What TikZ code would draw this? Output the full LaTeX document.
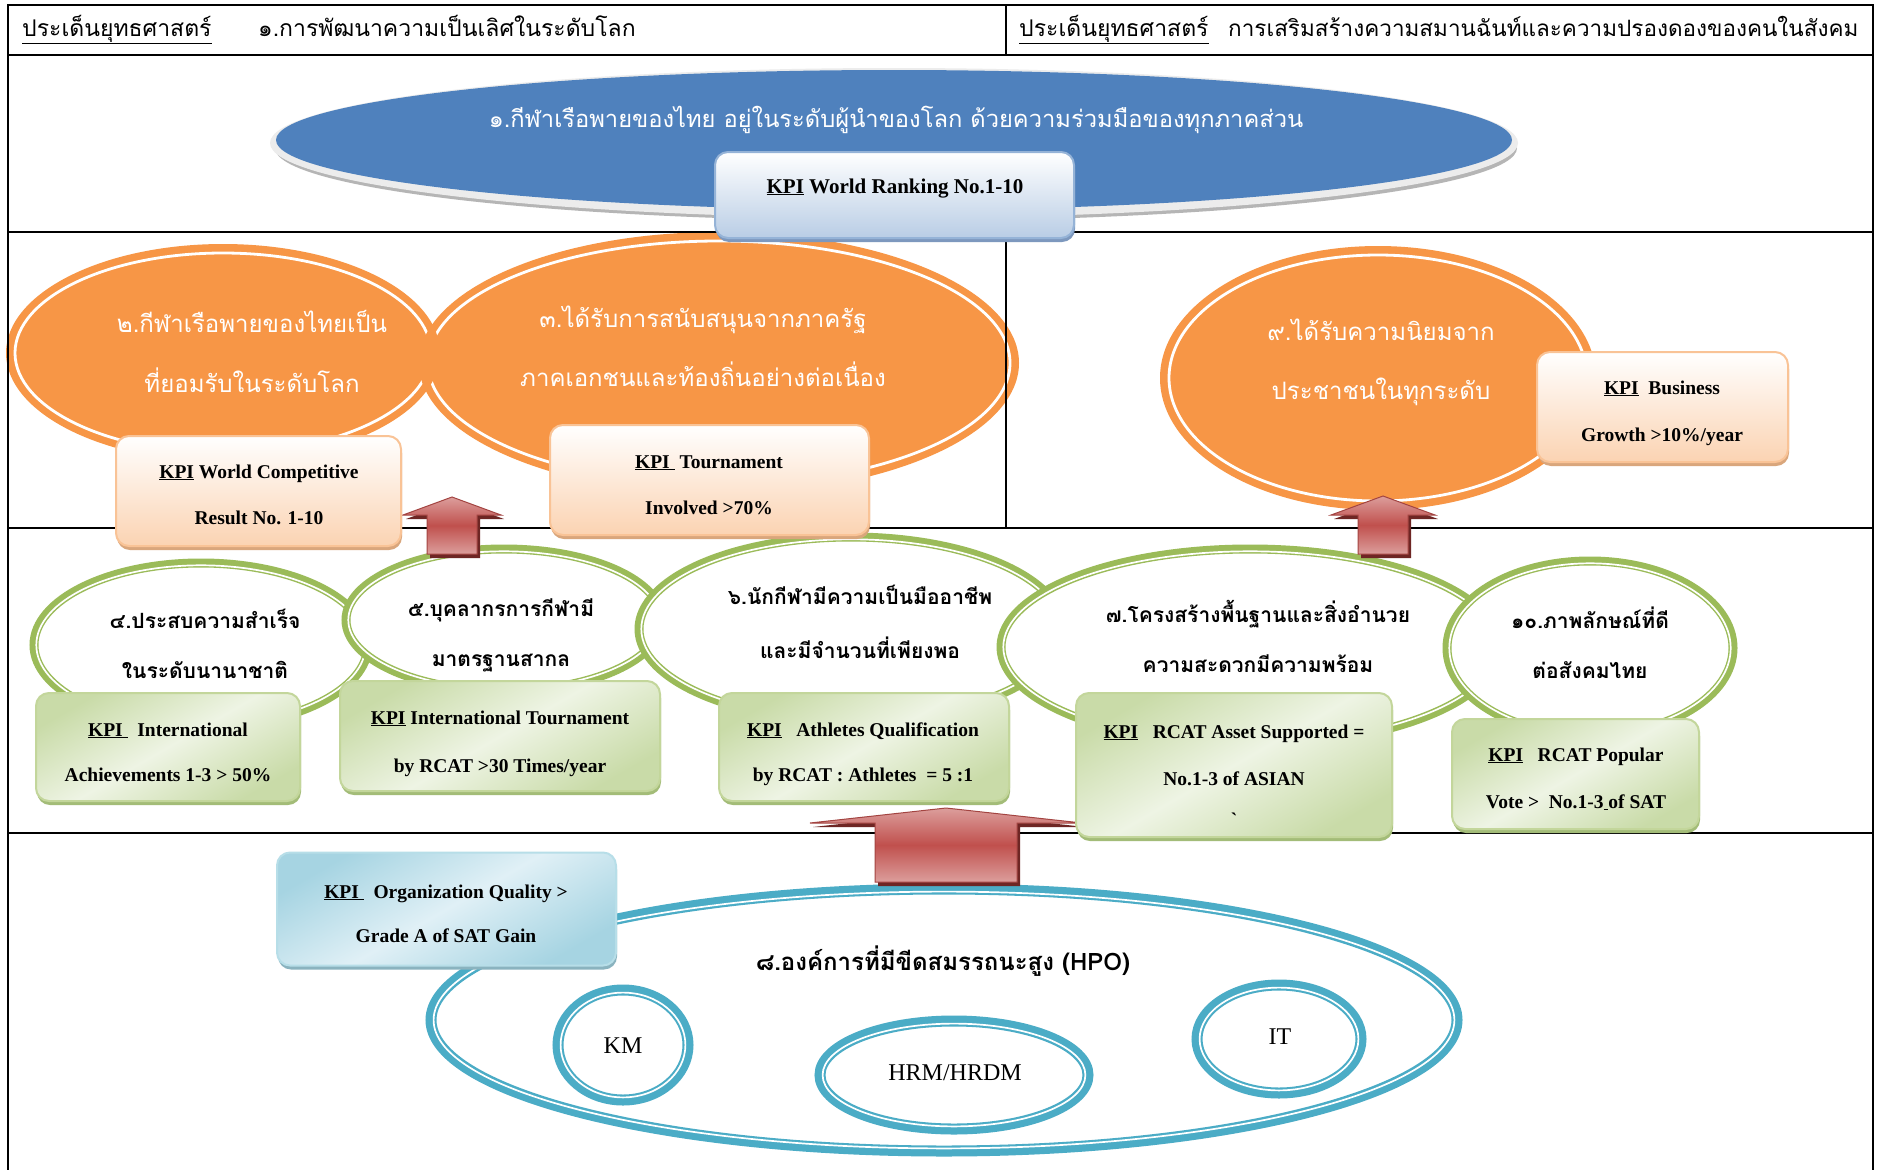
\documentclass[tikz,border=0pt]{standalone}
\usepackage{fontspec}
\setmainfont{Liberation Serif}
\newfontfamily\thai[Script=Thai]{Loma}
\usetikzlibrary{shapes.geometric,shadows,calc}
\definecolor{cBlue}{HTML}{4F81BD}
\definecolor{cRim}{HTML}{ECECEC}
\definecolor{cRimD}{HTML}{B5B5B5}
\definecolor{cOr}{HTML}{F79646}
\definecolor{cGr}{HTML}{9BBB59}
\definecolor{cCy}{HTML}{4BACC6}
\definecolor{cRed}{HTML}{C0504D}
\definecolor{cRedL}{HTML}{DC9E9C}
\definecolor{cRedD}{HTML}{6E2624}
\definecolor{cPeach}{HTML}{FBD3B2}
\definecolor{cPeachB}{HTML}{F9C396}
\definecolor{cPeachS}{HTML}{D9A67C}
\definecolor{cGrL}{HTML}{EEF4E4}
\definecolor{cGrM}{HTML}{C9DBA8}
\definecolor{cGrB}{HTML}{C3D69B}
\definecolor{cGrS}{HTML}{A3BC78}
\definecolor{cCyL}{HTML}{E0F0F6}
\definecolor{cCyM}{HTML}{A6D4E2}
\definecolor{cCyB}{HTML}{B7DEE8}
\definecolor{cCyS}{HTML}{8AB3BF}
\definecolor{cSky}{HTML}{B9CDE5}
\definecolor{cSkyB}{HTML}{95B3D7}
\definecolor{cSkyS}{HTML}{7D98BE}

\newcommand\ringell[7]{%
  \node[#1, minimum width={2*#4}, minimum height={2*#5}] (#2) at (#3) {};
  \draw[#7] (#2.center) ellipse [x radius={#4pt-#6pt}, y radius={#5pt-#6pt}];}

\newcommand\uparr[5]{%
  \begin{scope}[shift={(#1)}]
    \fill[cRedD] (-#4+3,4) -- (-#4+3,-#5+#3+4) -- (-#2+3,-#5+#3+4) -- (3,-#5+4)
      -- (#2+3,-#5+#3+4) -- (#4+3,-#5+#3+4) -- (#4+3,4) -- cycle;
    \shade[top color=cRedL, bottom color=cRedL, middle color=cRed, draw=cRed!85!black, line width=1pt]
      (-#4,0) -- (-#4,-#5+#3) -- (-#2,-#5+#3) -- (0,-#5) -- (#2,-#5+#3) -- (#4,-#5+#3) -- (#4,0) -- cycle;
  \end{scope}}

\begin{document}
\begin{tikzpicture}[x=1pt,y=-1pt,
  tline/.style={line width=2.4pt},
  thinline/.style={line width=1.5pt},
  oell/.style={ellipse, inner sep=0, fill=cOr},
  oring/.style={draw=white, line width=2.8pt},
  gell/.style={ellipse, inner sep=0, draw=cGr, line width=9pt, fill=white},
  cell/.style={ellipse, inner sep=0, draw=cCy, line width=11pt, fill=white},
  wl/.style={draw=white, line width=1.7pt},
  kbox/.style={rectangle, rounded corners=13pt, inner sep=0, line width=2pt},
  kor/.style={kbox, draw=cPeachB, top color=white, bottom color=cPeach,
    drop shadow={opacity=1, fill=cPeachS, shadow xshift=1pt, shadow yshift=-4pt}},
  kgr/.style={kbox, draw=cGrB, top color=cGrM, bottom color=cGrM, middle color=cGrL, shading angle=30,
    drop shadow={opacity=1, fill=cGrS, shadow xshift=1pt, shadow yshift=-4pt}},
  kcy/.style={kbox, draw=cCyB, top color=cCyM, bottom color=cCyM, middle color=cCyL, shading angle=30,
    drop shadow={opacity=1, fill=cCyS, shadow xshift=1pt, shadow yshift=-4pt}},
  ksky/.style={kbox, draw=cSkyB, top color=white, bottom color=cSky,
    drop shadow={opacity=1, fill=cSkyS, shadow xshift=1pt, shadow yshift=-4pt}},
  ktxt/.style={font=\bfseries\fontsize{19.5}{23}\selectfont, inner sep=0, text height=14pt, text depth=4pt},
  hdr/.style={font=\thai\fontsize{23}{28}\selectfont, inner sep=0, text height=17pt, text depth=5pt, anchor=west},
  otxt/.style={font=\thai\fontsize{24}{28}\selectfont, text=white, inner sep=0, text height=17pt, text depth=5pt},
  gtxt/.style={font=\thai\bfseries\fontsize{21}{26}\selectfont, inner sep=0, text height=15pt, text depth=4pt},
  mtxt/.style={font=\fontsize{24}{28}\selectfont, inner sep=0, text height=16pt, text depth=5pt}
]
\useasboundingbox (0,0) rectangle (1879,1170);
\fill[white] (0,0) rectangle (1879,1170);

% ---------- top blue ellipse ----------
\coordinate (cTop) at (894,140);
\fill[cRimD] ([shift={(2,8)}]cTop) ellipse [x radius=621pt, y radius=73pt];
\fill[cRim] ([shift={(0,3)}]cTop) ellipse [x radius=624pt, y radius=75pt];
\node[ellipse, inner sep=0, fill=cBlue, minimum width=1236pt, minimum height=140pt] (eTop) at (cTop) {};

% ---------- orange ellipses ----------
\ringell{oell}{e2}{223,353}{217}{109}{9}{oring}
\ringell{oell}{e3}{719,363}{300}{131}{9}{oring}
\begin{scope}
  \clip (e2.center) ellipse [x radius=217pt, y radius=109pt];
  \fill[cOr] (e3.center) ellipse [x radius=300pt, y radius=131pt];
\end{scope}
\ringell{oell}{e9}{1378,378}{218}{132}{9}{oring}

% ---------- green ellipses ----------
\ringell{gell}{e4}{201,645}{167}{82}{2.3}{wl}
\ringell{gell}{e5}{504,620}{158}{71}{2.3}{wl}
\ringell{gell}{e6}{851,629}{212}{92}{2.3}{wl}
\ringell{gell}{e7}{1250,647}{249}{98}{2.3}{wl}
\ringell{gell}{e10}{1590,648}{143}{87}{2.3}{wl}

% ---------- HPO ellipses ----------
\ringell{cell}{eH}{944,1020}{513}{131}{2.6}{wl}
\ringell{cell}{eKM}{623,1045}{65}{55}{2.6}{wl}
\ringell{cell}{eHR}{954,1075}{134}{54}{2.6}{wl}
\ringell{cell}{eIT}{1279,1039}{82}{54}{2.6}{wl}

% ---------- table ----------
\draw[tline] (8,5) -- (1873,5);
\draw[tline] (8,55) -- (1873,55);
\draw[tline] (8,232) -- (1873,232);
\draw[tline] (8,528) -- (1873,528);
\draw[tline] (8,833) -- (1873,833);
\draw[tline] (8,4) -- (8,1170);
\draw[tline] (1873,4) -- (1873,1170);
\draw[tline] (1006,5) -- (1006,55);
\draw[thinline] (1006,232) -- (1006,528);

% ---------- arrows ----------
\coordinate (arA) at (452,554);
\coordinate (arB) at (1383,554);
\coordinate (arC) at (946,882);
\uparr{arA}{49}{18}{25}{57}
\uparr{arB}{52}{19}{25}{58}
\uparr{arC}{136}{15}{71}{74}

% ---------- KPI boxes ----------
\node[ksky, minimum width=359pt, minimum height=86pt] (kTop) at (894.5,195) {};
\node[kor, minimum width=285pt, minimum height=110pt] (kWC) at (258.5,491) {};
\node[kor, minimum width=319pt, minimum height=110pt] (kTo) at (709.5,480) {};
\node[kor, minimum width=251pt, minimum height=110pt] (kBu) at (1662.5,407) {};
\node[kgr, minimum width=264pt, minimum height=108pt] (kIA) at (168,747) {};
\node[kgr, minimum width=320pt, minimum height=110pt] (kIT) at (500,736) {};
\node[kgr, minimum width=290pt, minimum height=108pt] (kAQ) at (864,747) {};
\node[kgr, minimum width=316pt, minimum height=144pt] (kRA) at (1234,765) {};
\node[kgr, minimum width=247pt, minimum height=110pt] (kRP) at (1575.5,774) {};
\node[kcy, minimum width=339pt, minimum height=113pt] (kOQ) at (446.5,909) {};

% ---------- header texts ----------
\node[hdr] (h1) at (22,30) {\underline{ประเด็นยุทธศาสตร์}};
\node[hdr] (h2) at (258,30) {๑.การพัฒนาความเป็นเลิศในระดับโลก};
\node[hdr] (h3) at (1019,30) {\underline{ประเด็นยุทธศาสตร์}};
\node[hdr, font=\thai\fontsize{22.5}{28}\selectfont] (h4) at (1228,30) {การเสริมสร้างความสมานฉันท์และความปรองดองของคนในสังคม};

% ---------- ellipse texts ----------
\node[otxt, font=\thai\fontsize{23.7}{28}\selectfont] (tTop) at (896,121) {๑.กีฬาเรือพายของไทย อยู่ในระดับผู้นำของโลก ด้วยความร่วมมือของทุกภาคส่วน};
\node[otxt] (t2a) at (252,326) {๒.กีฬาเรือพายของไทยเป็น};
\node[otxt] (t2b) at (252,386) {ที่ยอมรับในระดับโลก};
\node[otxt] (t3a) at (703,321) {๓.ได้รับการสนับสนุนจากภาครัฐ};
\node[otxt] (t3b) at (703,380) {ภาคเอกชนและท้องถิ่นอย่างต่อเนื่อง};
\node[otxt] (t9a) at (1381,334) {๙.ได้รับความนิยมจาก};
\node[otxt] (t9b) at (1381,393) {ประชาชนในทุกระดับ};
\node[gtxt] (t4a) at (205,623) {๔.ประสบความสำเร็จ};
\node[gtxt] (t4b) at (205,673) {ในระดับนานาชาติ};
\node[gtxt] (t5a) at (501,611) {๕.บุคลากรการกีฬามี};
\node[gtxt] (t5b) at (501,661) {มาตรฐานสากล};
\node[gtxt] (t6a) at (860,599) {๖.นักกีฬามีความเป็นมืออาชีพ};
\node[gtxt] (t6b) at (860,653) {และมีจำนวนที่เพียงพอ};
\node[gtxt] (t7a) at (1258,617) {๗.โครงสร้างพื้นฐานและสิ่งอำนวย};
\node[gtxt] (t7b) at (1258,667) {ความสะดวกมีความพร้อม};
\node[gtxt] (t10a) at (1590,623) {๑๐.ภาพลักษณ์ที่ดี};
\node[gtxt] (t10b) at (1590,673) {ต่อสังคมไทย};
\node[gtxt, font=\thai\bfseries\fontsize{24}{28}\selectfont] (tH) at (943,965) {๘.องค์การที่มีขีดสมรรถนะสูง (HPO)};
\node[mtxt] (tKM) at (623,1048) {KM};
\node[mtxt] (tHR) at (955,1075) {HRM/HRDM};
\node[mtxt] (tIT) at (1280,1039) {IT};

% ---------- KPI texts ----------
\node[ktxt, font=\bfseries\fontsize{21}{25}\selectfont] (xTop) at (895,188) {\underline{KPI} World Ranking No.1-10};
\node[ktxt] (xWC1) at (259,473) {\underline{KPI} World Competitive};
\node[ktxt] (xWC2) at (259,519) {Result No. 1-10};
\node[ktxt] (xTo1) at (709,463) {\underline{KPI\ } Tournament};
\node[ktxt] (xTo2) at (709,509) {Involved >70\%};
\node[ktxt] (xBu1) at (1662,389) {\underline{KPI}\ \ Business};
\node[ktxt] (xBu2) at (1662,436) {Growth >10\%/year};
\node[ktxt] (xIA1) at (168,731) {\underline{KPI\ }\ \ International};
\node[ktxt] (xIA2) at (168,776) {Achievements 1-3 > 50\%};
\node[ktxt] (xIT1) at (500,719) {\underline{KPI} International Tournament};
\node[ktxt] (xIT2) at (500,767) {by RCAT >30 Times/year};
\node[ktxt] (xAQ1) at (863,731) {\underline{KPI}\ \ \ Athletes Qualification};
\node[ktxt] (xAQ2) at (863,776) {by RCAT : Athletes\ \ = 5 :1};
\node[ktxt] (xRA1) at (1234,733) {\underline{KPI}\ \ \ RCAT Asset Supported =};
\node[ktxt] (xRA2) at (1234,780) {No.1-3 of ASIAN};
\node[ktxt] (xRA3) at (1234,821) {\textasciigrave};
\node[ktxt] (xRP1) at (1576,756) {\underline{KPI}\ \ \ RCAT Popular};
\node[ktxt] (xRP2) at (1576,803) {Vote >\ \ No.1-3\underline{\ }of SAT};
\node[ktxt] (xOQ1) at (446,893) {\underline{KPI\ }\ \ Organization Quality >};
\node[ktxt] (xOQ2) at (446,937) {Grade A of SAT Gain};
\end{tikzpicture}
\end{document}
